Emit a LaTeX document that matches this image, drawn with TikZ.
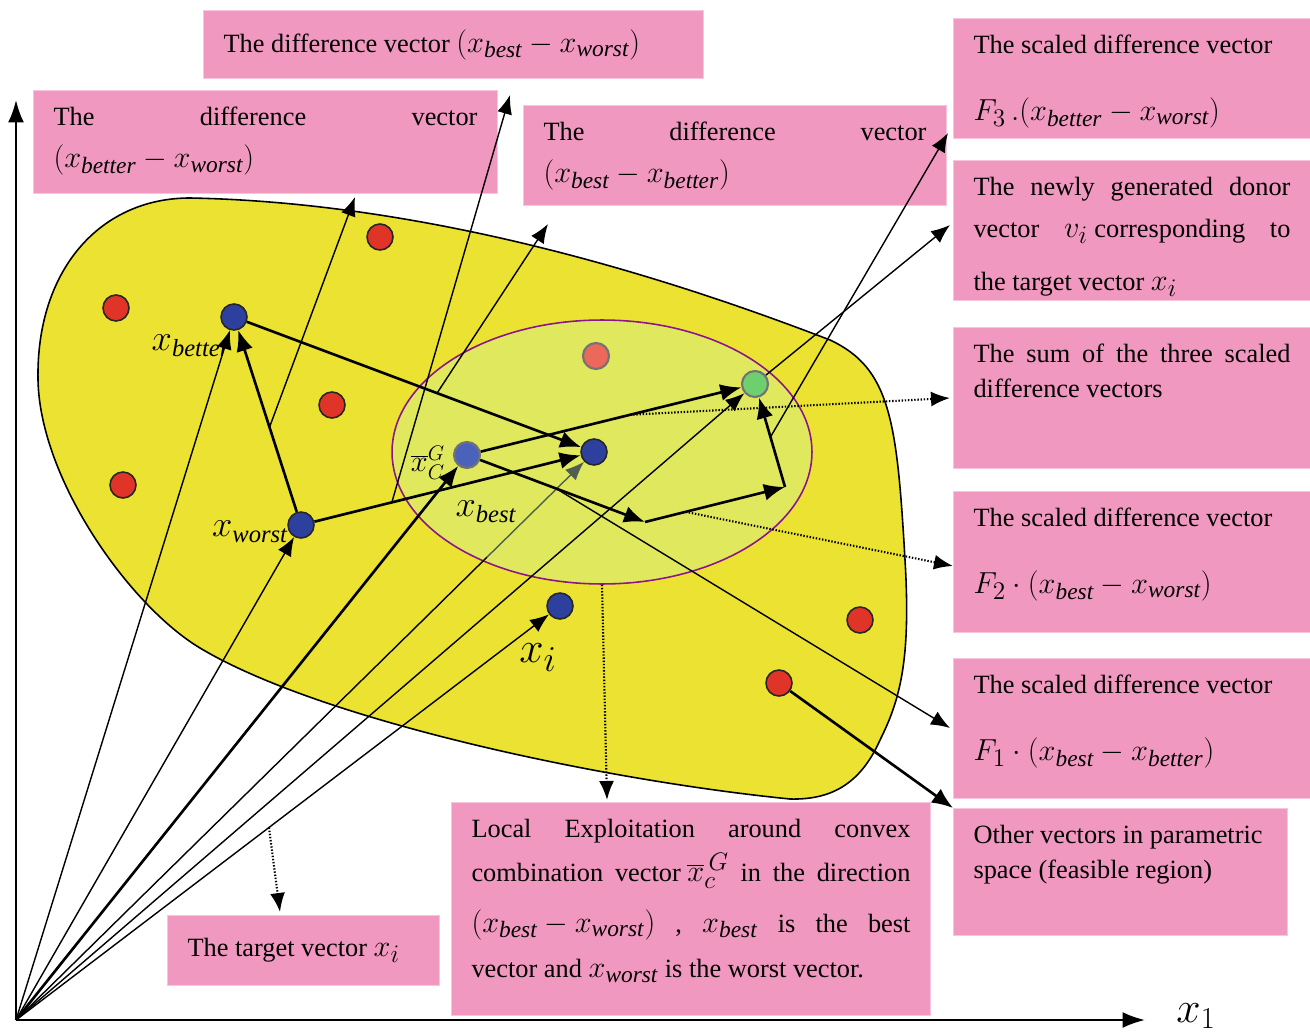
\documentclass[tikz,border=0pt]{standalone}
\usepackage{fontspec}
\setmainfont{Liberation Serif}
\usetikzlibrary{positioning, arrows.meta, calc, shapes.geometric}

\definecolor{boxpink}{RGB}{241,152,192}
\definecolor{blobyellow}{RGB}{236,226,50}
\definecolor{zoneyellow}{RGB}{224,232,94}
\definecolor{zoneedge}{RGB}{140,20,140}
\definecolor{dotred}{RGB}{224,52,40}
\definecolor{dotsalmon}{RGB}{236,104,90}
\definecolor{dotblue}{RGB}{46,64,158}
\definecolor{dotlblue}{RGB}{74,98,186}
\definecolor{dotgreen}{RGB}{110,207,110}
\definecolor{graygreen}{RGB}{80,95,80}

\newcommand{\xsub}[1]{x_{\mathit{#1}}}
\newcommand{\mfs}[1]{{\fontsize{19}{20}\selectfont$#1$}}

\begin{document}
\begin{tikzpicture}[x=0.02cm, y=-0.02cm,
    pinkbox/.style={fill=boxpink, draw=boxpink!55!white, line width=0.6pt, anchor=north west, inner xsep=0.4cm, inner ysep=0.33cm, font=\fontsize{15}{20}\selectfont},
    vecdot/.style={circle, draw=black!85, line width=0.9pt, minimum size=0.52cm, inner sep=0pt},
    softdot/.style={vecdot, draw=black!55, line width=1.2pt},
    lbl/.style={inner sep=0pt, font=\fontsize{20}{22}\selectfont},
    thickarrow/.style={-{Latex[length=0.42cm,width=0.34cm]}, line width=1.5pt},
    thinarrow/.style={-{Latex[length=0.38cm,width=0.3cm]}, line width=0.8pt},
    dotarrow/.style={thinarrow, densely dotted, line width=1.2pt},
    axisline/.style={-{Latex[length=0.45cm,width=0.32cm]}, line width=1.3pt}
  ]
  \useasboundingbox (0,0) rectangle (1310,1033);

  % feasible region and local zone
  \path[draw=black, line width=0.9pt, fill=blobyellow]
    (190,198) .. controls (450,203) and (700,290) .. (830,340)
    .. controls (890,368) and (897,420) .. (905,560)
    .. controls (911,660) and (900,700) .. (880,740)
    .. controls (860,785) and (830,800) .. (790,799)
    .. controls (600,780) and (320,720) .. (200,648)
    .. controls (130,606) and (40,480) .. (38,380)
    .. controls (36,270) and (100,198) .. (190,198) -- cycle;
  \node[ellipse, draw=zoneedge, line width=0.9pt, fill=zoneyellow, minimum width=8.4cm, minimum height=5.28cm, inner sep=0pt] (zone) at (602,452) {};

  % axes
  \coordinate (O) at (16,1020);
  \coordinate (yend) at (16,100);
  \coordinate (xend) at (1145,1020);
  \draw[axisline] (O) -- (yend);
  \draw[axisline] (O) -- (xend);
  \node[lbl, font=\fontsize{26}{28}\selectfont] (lx1) at (1196,1016) {$x_{1}$};

  % text boxes
  \node[pinkbox] (dbestworst) at (203,10) {\parbox[c][0.70cm][c]{9.2cm}{The difference vector \mfs{(\xsub{best}-\xsub{worst})}}};
  \node[pinkbox] (dbetterworst) at (33,90) {\parbox[c][1.40cm][t]{8.48cm}{The\hfill difference\hfill vector\\[4pt] \mfs{(\xsub{better}-\xsub{worst})}}};
  \node[pinkbox] (dbestbetter) at (523,105) {\parbox[c][1.34cm][t]{7.66cm}{The\hfill difference\hfill vector\\[4pt] \mfs{(\xsub{best}-\xsub{better})}}};
  \node[pinkbox] (sfthree) at (953,18) {\parbox[c][1.74cm][t]{6.34cm}{The scaled difference vector\\[18pt] \mfs{F_3\,.(\xsub{better}-\xsub{worst})}}};
  \node[pinkbox, font=\fontsize{15}{24}\selectfont] (donorbox) at (953,160) {\parbox[c][2.14cm][t]{6.34cm}{The\hfill newly\hfill generated\hfill donor\\ vector\hfill \mfs{v_i} corresponding\hfill to\\[6pt] the target vector \mfs{x_i}}};
  \node[pinkbox] (sumbox) at (953,327) {\parbox[c][2.16cm][t]{6.34cm}{The\hfill sum\hfill of\hfill the\hfill three\hfill scaled\\ difference vectors}};
  \node[pinkbox] (sftwo) at (953,491) {\parbox[c][2.16cm][t]{6.34cm}{The scaled difference vector\\[18pt] \mfs{F_2\cdot(\xsub{best}-\xsub{worst})}}};
  \node[pinkbox] (sfone) at (953,658) {\parbox[c][2.14cm][t]{6.34cm}{The scaled difference vector\\[18pt] \mfs{F_1\cdot(\xsub{best}-\xsub{better})}}};
  \node[pinkbox] (otherbox) at (953,808) {\parbox[c][1.88cm][t]{5.88cm}{Other vectors in parametric\\ space (feasible region)}};
  \node[pinkbox] (localbox) at (451,802) {\parbox[c][3.6cm][t]{8.78cm}{Local\hfill Exploitation\hfill around\hfill convex\\[5pt]
    combination\hfill vector\ \mfs{\overline{x}_{c}^{\,G}}\hfill in\hfill the\hfill direction\\[9pt]
    \mfs{(\xsub{best}-\xsub{worst})}\hfill ,\hfill \mfs{\xsub{best}}\hfill is\hfill the\hfill best\\[6pt]
    vector and \mfs{\xsub{worst}} is the worst vector.}};
  \node[pinkbox] (targetbox) at (167,915) {\parbox[c][0.74cm][c]{4.64cm}{The target vector \mfs{x_i}}};

  % population vectors
  \node[vecdot, fill=dotred] (r1) at (380,237) {};
  \node[vecdot, fill=dotred] (r2) at (116,308) {};
  \node[vecdot, fill=dotred] (r3) at (332,405) {};
  \node[vecdot, fill=dotred] (r4) at (123,485) {};
  \node[vecdot, fill=dotred] (r5) at (860,620) {};
  \node[vecdot, fill=dotred] (r6) at (779,683) {};
  \node[softdot, fill=dotsalmon] (r7) at (596,356) {};
  \node[vecdot, fill=dotblue] (xbetter) at (234,317) {};
  \node[vecdot, fill=dotblue] (xworst) at (301,525) {};
  \node[vecdot, fill=dotblue] (xbest) at (594,452) {};
  \node[vecdot, fill=dotblue] (xi) at (560,606) {};
  \node[softdot, fill=dotlblue] (xc) at (467,455) {};
  \node[softdot, fill=dotgreen] (donor) at (755,384) {};

  \node[lbl] (lbetter) at (191,346) {$\xsub{better}$};
  \node[lbl] (lworst) at (250,532) {$\xsub{worst}$};
  \node[lbl, font=\fontsize{18}{20}\selectfont] (lcomb) at (428,463) {$\overline{x}_{C}^{G}$};
  \node[lbl] (lbest) at (486,512) {$\xsub{best}$};
  \node[lbl, font=\fontsize{28}{30}\selectfont] (li) at (538,658) {$x_i$};

  % corners of the scaled steps
  \coordinate (p1) at (645,522);
  \coordinate (p2) at (785,487);

  % vectors from the origin
  \coordinate (gcut) at ($(O)!0.815!(xbest)$);
  \draw[thinarrow] (O) -- (xbetter);
  \draw[thinarrow] (O) -- (xworst);
  \draw[thinarrow] (O) -- (donor);
  \draw[thinarrow] (O) -- (xi);
  \draw[line width=0.8pt] (O) -- (gcut);
  \draw[thinarrow, draw=graygreen, fill=graygreen] (gcut) -- (xbest);
  \draw[thickarrow] (O) -- (xc);

  % difference vectors
  \draw[thickarrow] (xworst) -- (xbetter);
  \draw[thickarrow] (xbetter) -- (xbest);
  \draw[thickarrow] (xworst) -- (xbest);
  \draw[thickarrow] (xc) -- (donor);
  \draw[thickarrow] (xc) -- (p1);
  \draw[thickarrow] (p1) -- (p2);
  \draw[thickarrow] (p2) -- (donor);
  \draw[thickarrow] (r6) -- (otherbox.north west);

  % pointers to the boxes
  \coordinate (m1) at ($(xworst)!0.47!(xbetter)$);
  \coordinate (m2) at ($(xworst)!0.31!(xbest)$);
  \coordinate (m3) at ($(xbetter)!0.564!(xbest)$);
  \coordinate (m4) at ($(p2)!0.485!(donor)$);
  \coordinate (m5) at ($(xc)!0.566!(donor)$);
  \coordinate (m6) at ($(p1)!0.29!(p2)$);
  \coordinate (m7) at ($(xc)!0.5!(p1)$);
  \coordinate (m8) at ($(O)!0.465!(xi)$);
  \coordinate (t1) at (355,197);
  \coordinate (t2) at (510,95);
  \coordinate (t3) at (548,224);
  \coordinate (t4) at (948,133);
  \coordinate (t5) at (950,225);
  \coordinate (t6) at (950,398);
  \coordinate (t7) at (953,566);
  \coordinate (t8) at (950,728);
  \coordinate (t9) at (607,800);
  \coordinate (t10) at (280,912);

  \draw[thinarrow] (m1) -- (t1);
  \draw[thinarrow] (m2) -- (t2);
  \draw[thinarrow] (m3) -- (t3);
  \draw[thinarrow] (m4) -- (t4);
  \draw[thinarrow] (donor) -- (t5);
  \draw[dotarrow] (m5) -- (t6);
  \draw[dotarrow] (m6) -- (t7);
  \draw[thinarrow] (m7) -- (t8);
  \draw[dotarrow] (zone.south) -- (t9);
  \draw[dotarrow] (m8) -- (t10);
\end{tikzpicture}
\end{document}
